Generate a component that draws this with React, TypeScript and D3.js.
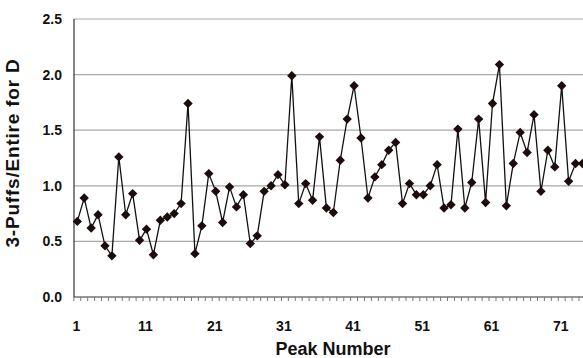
// App.tsx

import React, { useEffect, useRef } from "react";
import * as d3 from "d3";

// Peak numbers 1..74 (the right edge of the chart is cropped)
const peakValues = [
  0.68, 0.89, 0.62, 0.74, 0.46, 0.37, 1.26, 0.74, 0.93, 0.51,
  0.61, 0.38, 0.69, 0.72, 0.75, 0.84, 1.74, 0.39, 0.64, 1.11,
  0.95, 0.67, 0.99, 0.81, 0.92, 0.48, 0.55, 0.95, 1.0, 1.1,
  1.01, 1.99, 0.84, 1.02, 0.87, 1.44, 0.8, 0.76, 1.23, 1.6,
  1.9, 1.43, 0.89, 1.08, 1.19, 1.32, 1.39, 0.84, 1.02, 0.92,
  0.92, 1.0, 1.19, 0.8, 0.83, 1.51, 0.8, 1.03, 1.6, 0.85,
  1.74, 2.09, 0.82, 1.2, 1.48, 1.3, 1.64, 0.95, 1.32, 1.17,
  1.9, 1.04, 1.2, 1.2,
];
const peakNumbers = peakValues.map((_, i) => i + 1);
const xTickLabels = [1, 11, 21, 31, 41, 51, 61, 71];
const yTickLabels = [0, 0.5, 1.0, 1.5, 2.0, 2.5];

const App = () => {
  const ref = useRef<HTMLDivElement>(null);

  useEffect(() => {
    drawChart();
  }, []);

  const drawChart = () => {
    const width = 583;
    const height = 358;
    const plotLeft = 74;
    const plotTop = 19;
    const plotBottom = 297;
    const font = "Arial, 'Liberation Sans', Helvetica, sans-serif";

    d3.select(ref.current).selectAll("svg").remove();

    const svg = d3
      .select(ref.current)
      .append("svg")
      .attr("width", width)
      .attr("height", height)
      .style("display", "block")
      .style("background", "#fff");

    // x: one category slot per peak, point 1 sits a little right of the axis
    const x = d3
      .scaleLinear()
      .domain([1, 74])
      .range([77.3, 77.3 + 73 * 6.92]);
    const y = d3.scaleLinear().domain([0, 2.5]).range([plotBottom, plotTop]);

    // Horizontal grid lines
    svg
      .append("g")
      .selectAll("line")
      .data(yTickLabels.filter((d) => d > 0))
      .enter()
      .append("line")
      .attr("x1", plotLeft)
      .attr("x2", width)
      .attr("y1", (d) => y(d))
      .attr("y2", (d) => y(d))
      .attr("stroke", "#a8a8a8")
      .attr("stroke-width", 1.2);

    // Axes lines
    svg
      .append("line")
      .attr("x1", plotLeft)
      .attr("x2", plotLeft)
      .attr("y1", plotTop)
      .attr("y2", plotBottom)
      .attr("stroke", "#333")
      .attr("stroke-width", 1.2);
    svg
      .append("line")
      .attr("x1", plotLeft)
      .attr("x2", width)
      .attr("y1", plotBottom)
      .attr("y2", plotBottom)
      .attr("stroke", "#333")
      .attr("stroke-width", 1.2);

    // Minor ticks below the x axis, one per peak
    svg
      .append("g")
      .selectAll("line")
      .data(peakNumbers.concat([75]))
      .enter()
      .append("line")
      .attr("x1", (d) => x(d) - 3.46)
      .attr("x2", (d) => x(d) - 3.46)
      .attr("y1", plotBottom)
      .attr("y2", plotBottom + 4)
      .attr("stroke", "#777")
      .attr("stroke-width", 1);

    // Y tick labels
    svg
      .append("g")
      .selectAll("text")
      .data(yTickLabels)
      .enter()
      .append("text")
      .attr("x", 62)
      .attr("y", (d) => y(d) + 5)
      .attr("text-anchor", "end")
      .attr("font-family", font)
      .attr("font-weight", "bold")
      .attr("font-size", 14)
      .attr("fill", "#111")
      .text((d) => d.toFixed(1));

    // X tick labels
    svg
      .append("g")
      .selectAll("text")
      .data(xTickLabels)
      .enter()
      .append("text")
      .attr("x", (d) => x(d) - 1)
      .attr("y", 331)
      .attr("text-anchor", "middle")
      .attr("font-family", font)
      .attr("font-weight", "bold")
      .attr("font-size", 14)
      .attr("fill", "#111")
      .text((d) => d);

    // Axis titles
    svg
      .append("text")
      .attr("x", 333)
      .attr("y", 355)
      .attr("text-anchor", "middle")
      .attr("font-family", font)
      .attr("font-weight", "bold")
      .attr("font-size", 18)
      .attr("fill", "#111")
      .text("Peak Number");

    svg
      .append("text")
      .attr("transform", "translate(19, 153) rotate(-90)")
      .attr("text-anchor", "middle")
      .attr("font-family", font)
      .attr("font-weight", "bold")
      .attr("font-size", 19)
      .attr("letter-spacing", 0.8)
      .attr("fill", "#111")
      .text("3-Puffs/Entire for D");

    // Series line
    const line = d3
      .line<number>()
      .x((_, i) => x(peakNumbers[i]))
      .y((d) => y(d));

    svg
      .append("path")
      .datum(peakValues)
      .attr("d", line)
      .attr("fill", "none")
      .attr("stroke", "#111")
      .attr("stroke-width", 1.3);

    // Diamond markers (rotated squares)
    const diamond = d3.symbol().type(d3.symbolSquare).size(44);
    svg
      .append("g")
      .selectAll("path")
      .data(peakValues)
      .enter()
      .append("path")
      .attr("d", diamond)
      .attr(
        "transform",
        (d, i) => `translate(${x(peakNumbers[i])}, ${y(d)}) rotate(45)`
      )
      .attr("fill", "#1c0c0c");
  };

  return (
    <div
      ref={ref}
      style={{ position: "absolute", left: 0, top: 0 }}
    ></div>
  );
};

export default App;
